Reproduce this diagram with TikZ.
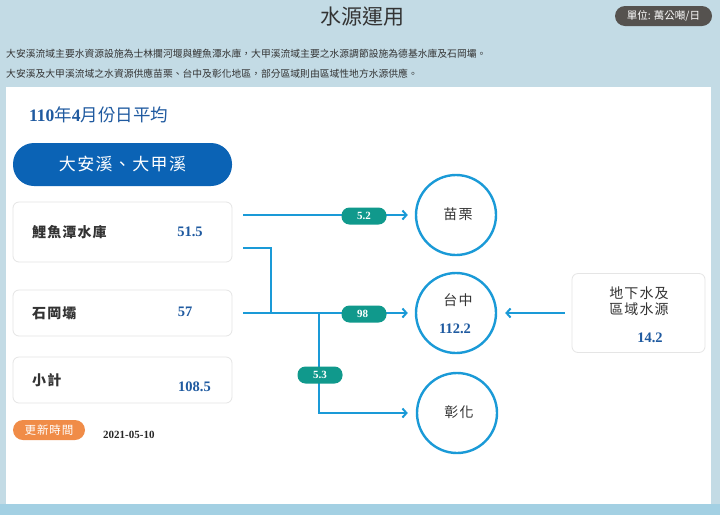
\documentclass[tikz,border=0pt]{standalone}
\usepackage{fontspec}
\setmainfont{Liberation Serif}
\newfontfamily\cjk{Noto Sans CJK TC}
\newfontfamily\cjkwide[LetterSpace=8]{Noto Sans CJK TC}
\usetikzlibrary{arrows.meta}
\definecolor{bgblue}{HTML}{C3DBE5}
\definecolor{bandblue}{HTML}{A3D0E3}
\definecolor{lineblue}{HTML}{1A9AD7}
\definecolor{pillblue}{HTML}{0B63B5}
\definecolor{numblue}{HTML}{1F5AA0}
\definecolor{tealpill}{HTML}{10998C}
\definecolor{orangepill}{HTML}{F08C48}
\definecolor{unitgray}{HTML}{55524F}
\definecolor{textgray}{HTML}{333333}

\begin{document}
\begin{tikzpicture}[x=1pt, y=-1pt,
		desc/.style={anchor=west, inner sep=0, text=textgray, font=\cjk\fontsize{9.8}{12}\selectfont},
		srcbox/.style={draw=black!10, line width=.8pt, fill=white, rounded corners=6pt, minimum width=219pt},
		srcname/.style={anchor=west, inner sep=0, text=textgray, font=\cjkwide\bfseries\fontsize{14}{16}\selectfont},
		srcvalue/.style={inner sep=0, text=numblue, font=\bfseries\fontsize{14.5}{16}\selectfont},
		city/.style={circle, draw=lineblue, line width=2.4pt, fill=white, minimum size=80pt, inner sep=0},
		cityname/.style={inner sep=0, text=textgray, font=\cjkwide\fontsize{14}{16}\selectfont},
		flow/.style={draw=lineblue, line width=2pt, -{Straight Barb[length=4pt, width=9pt]}},
		pipe/.style={draw=lineblue, line width=2pt},
		flowpill/.style={fill=tealpill, text=white, rounded corners=8pt, minimum width=45pt, minimum height=17pt, inner sep=0, font=\bfseries\fontsize{11}{12}\selectfont}]
	\useasboundingbox (0,0) rectangle (720,515);
	\fill[bgblue] (0,0) rectangle (720,515);
	\fill[bandblue] (0,504) rectangle (720,515);
	\fill[white] (6,87) rectangle (711,504);

	\node[text=textgray, font=\cjk\fontsize{21}{24}\selectfont] (title) at (362,17) {水源運用};
	\node[fill=unitgray, text=white, rounded corners=10pt, minimum width=97pt, minimum height=20pt, inner sep=0, font=\cjk\fontsize{10.5}{12}\selectfont] (unit) at (663.5,16) {單位: 萬公噸/日};
	\node[desc] (descA) at (6,54) {大安溪流域主要水資源設施為士林攔河堰與鯉魚潭水庫，大甲溪流域主要之水源調節設施為德基水庫及石岡壩。};
	\node[desc] (descB) at (6,74) {大安溪及大甲溪流域之水資源供應苗栗、台中及彰化地區，部分區域則由區域性地方水源供應。};

	\node[anchor=west, inner sep=0, text=numblue, font=\fontsize{17.5}{20}\selectfont] (month) at (29,115) {\textbf{110}{\cjk 年}\textbf{4}{\cjk 月份日平均}};
	\node[fill=pillblue, text=white, rounded corners=21pt, minimum width=219pt, minimum height=43pt, inner sep=0, font=\cjkwide\fontsize{17}{20}\selectfont] (river) at (122.5,164.5) {大安溪、大甲溪};

	\node[srcbox, minimum height=60pt] (liyu) at (122.5,232) {};
	\node[srcname] (liyuname) at (32,232) {鯉魚潭水庫};
	\node[srcvalue] (liyuvalue) at (190,232) {51.5};
	\node[srcbox, minimum height=46pt] (shigang) at (122.5,313) {};
	\node[srcname] (shigangname) at (32,313) {石岡壩};
	\node[srcvalue] (shigangvalue) at (185,312) {57};
	\node[srcbox, minimum height=46pt] (subtotal) at (122.5,380) {};
	\node[srcname] (subtotalname) at (32,380) {小計};
	\node[srcvalue] (subtotalvalue) at (194.5,387) {108.5};

	\node[fill=orangepill, text=white, rounded corners=10pt, minimum width=72pt, minimum height=20pt, inner sep=0, font=\cjkwide\fontsize{11.5}{13}\selectfont] (update) at (49,430) {更新時間};
	\node[anchor=west, inner sep=0, text=black!85, font=\bfseries\fontsize{11}{12}\selectfont] (date) at (103,435) {2021-05-10};

	\node[city] (miaoli) at (456,215) {};
	\node[cityname] (miaoliname) at (458,214) {苗栗};
	\node[city] (taichung) at (456,313) {};
	\node[cityname] (taichungname) at (458,300) {台中};
	\node[srcvalue] (taichungvalue) at (455,329) {112.2};
	\node[city] (changhua) at (457,413) {};
	\node[cityname] (changhuaname) at (459,412) {彰化};

	\node[srcbox, minimum width=133pt, minimum height=79pt] (ground) at (638.5,313) {};
	\node[cityname, align=center] (groundname) at (639,301) {地下水及\\區域水源};
	\node[srcvalue] (groundvalue) at (650,338) {14.2};

	\coordinate (outA) at (243,215);
	\coordinate (outB) at (243,248);
	\coordinate (outC) at (243,313);
	\coordinate (joinB) at (271,248);
	\coordinate (joinC) at (271,313);
	\coordinate (split) at (319,313);

	\draw[flow, shorten >=7pt] (outA) -- (miaoli.west);
	\draw[pipe] (outB) -- (joinB) -- (joinC);
	\draw[flow, shorten >=7pt] (outC) -- (taichung.west);
	\draw[flow, shorten >=8pt] (split) |- (changhua.west);
	\draw[flow, shorten <=7pt, shorten >=8pt] (ground.west) -- (taichung.east);

	\node[flowpill] (qmiaoli) at (364,216) {5.2};
	\node[flowpill, text width=14pt] (qtaichung) at (364,314) {98};
	\node[flowpill] (qchanghua) at (320,375) {\raisebox{-3pt}{5.3}};
\end{tikzpicture}
\end{document}
